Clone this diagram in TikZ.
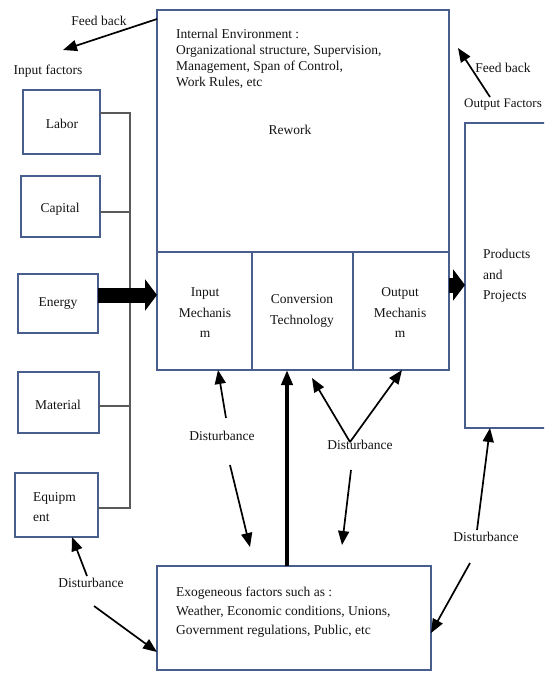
\documentclass[tikz,border=0pt]{standalone}
\usepackage{fontspec}
\setmainfont{Liberation Serif}
\usetikzlibrary{arrows.meta,calc}
\definecolor{bcol}{RGB}{72,94,140}
\definecolor{lcol}{RGB}{90,90,90}
\definecolor{tcol}{RGB}{20,20,20}
\begin{document}
\begin{tikzpicture}[x=1pt,y=-1pt,
  box/.style={draw=bcol,line width=1.9pt,inner sep=0pt,outer sep=0pt},
  lbl/.style={text=tcol,inner sep=0pt,font=\fontsize{13.5}{16}\selectfont},
  lblw/.style={text=tcol,inner sep=0pt,font=\fontsize{13.5}{20.5}\selectfont},
  bus/.style={draw=lcol,line width=1.5pt},
  tarrow/.style={draw=black,line width=1.7pt,-{Triangle[length=14pt,width=11pt]}},
  fatarrow/.style={draw=black,line width=15pt,-{Triangle[length=12pt,width=31pt]}},
  medarrow/.style={draw=black,line width=4pt,-{Triangle[length=15pt,width=11pt]}}]
\clip (0,0) rectangle (544,674);
\fill[white] (0,0) rectangle (544,674);

% main boxes
\node[box,minimum width=292pt,minimum height=242pt] (internal) at (303,131) {};
\node[box,minimum width=95pt,minimum height=118pt] (inmech) at (204.5,311) {};
\node[box,minimum width=101pt,minimum height=118pt] (conv) at (302.5,311) {};
\node[box,minimum width=96pt,minimum height=118pt] (outmech) at (401,311) {};
\node[box,minimum width=87pt,minimum height=305pt] (prod) at (508.5,275.5) {};
\node[box,minimum width=274pt,minimum height=104pt] (exo) at (294,618) {};

% input boxes
\node[box,minimum width=77pt,minimum height=64pt] (labor) at (61.5,122) {};
\node[box,minimum width=79pt,minimum height=61pt] (capital) at (60.5,206.5) {};
\node[box,minimum width=80pt,minimum height=59pt] (energy) at (58,303.5) {};
\node[box,minimum width=81pt,minimum height=61pt] (material) at (58.5,402.5) {};
\node[box,minimum width=83pt,minimum height=64pt] (equip) at (56.5,505) {};

% texts
\node[lbl,anchor=north west,align=left] (inttext) at (176,28.5)
  {Internal Environment :\\Organizational structure, Supervision,\\Management, Span of Control,\\Work Rules, etc};
\node[lbl] (rework) at (290,130) {Rework};
\node[lblw,align=center] (inmtext) at (205,313) {Input\\Mechanis\\m};
\node[lblw,align=center] (convtext) at (302,311) {Conversion\\Technology};
\node[lblw,align=center] (outmtext) at (400,313) {Output\\Mechanis\\m};
\node[lblw,align=left,anchor=west] (prodtext) at (483,276) {Products\\and\\Projects};
\node[lbl,align=left,anchor=north west,font=\fontsize{13.5}{19}\selectfont] (exotext) at (176,586.5)
  {Exogeneous factors such as :\\Weather, Economic conditions, Unions,\\Government regulations, Public, etc};
\node[lbl] (labortext) at (62,124) {Labor};
\node[lbl] (captext) at (60,209) {Capital};
\node[lbl] (energytext) at (58,304) {Energy};
\node[lbl] (mattext) at (58,405) {Material};
\node[lblw,align=left,anchor=west,font=\fontsize{13.5}{20}\selectfont] (equiptext) at (33,507) {Equipm\\ent};

\node[lbl] (fbl) at (99,21) {Feed back};
\node[lbl] (inf) at (48,71) {Input factors};
\node[lbl] (fbr) at (503,68) {Feed back};
\node[lbl,anchor=west,font=\fontsize{13}{16}\selectfont] (outf) at (464,105) {Output Factors};

\node[lbl] (dist1) at (222,436) {Disturbance};
\node[lbl] (dist2) at (360,445) {Disturbance};
\node[lbl] (dist3) at (486,537) {Disturbance};
\node[lbl] (dist4) at (91,583) {Disturbance};

% bus connectors
\coordinate (bustop) at (130,113);
\coordinate (busbot) at (130,508);
\draw[bus] ($(labor.east)+(0,-9)$) -- (bustop) -- (busbot) -- ($(equip.east)+(0,3)$);
\draw[bus] ($(capital.east)+(0,5.5)$) coordinate (c1) -- (c1 -| bustop);
\draw[bus] ($(material.east)+(0,3.5)$) coordinate (m1) -- (m1 -| bustop);

% thick arrows
\draw[fatarrow] ($(energy.east)+(0,-8.5)$) -- ($(inmech.west)+(0,-16)$);
\draw[fatarrow] ($(outmech.east)+(0,-26)$) -- ($(prod.west)+(0,9.5)$);
\draw[medarrow] ($(exo.north)+(-7,0)$) -- ($(conv.south)+(-15.5,0)$);

% feed back
\coordinate (fbLend) at (63,50);
\draw[tarrow] ($(internal.north west)+(0,9)$) -- (fbLend);
\coordinate (fbRs) at (490,97);
\coordinate (fbRe) at (458,48);
\draw[tarrow] (fbRs) -- (fbRe);

% disturbances
\coordinate (d1up) at (226,418);
\coordinate (d1dn) at (230,465);
\coordinate (d1dnend) at (250,547);
\draw[tarrow] (d1up) -- ($(inmech.south)+(13.5,0)$);
\draw[tarrow] (d1dn) -- (d1dnend);

\coordinate (vtx) at (350,442);
\coordinate (convtip) at (312,378);
\coordinate (d2dn) at (351,470);
\coordinate (d2dnend) at (342,545);
\draw[tarrow] (vtx) -- (convtip);
\draw[tarrow] (vtx) -- ($(outmech.south)+(1,0)$);
\draw[tarrow] (d2dn) -- (d2dnend);

\coordinate (d3up) at (477,530);
\coordinate (d3dn) at (470,563);
\draw[tarrow] (d3up) -- ($(prod.south)+(-18.5,0)$);
\draw[tarrow] (d3dn) -- ($(exo.east)+(0,15)$);

\coordinate (d4up) at (87,576);
\coordinate (d4dn) at (94,606);
\draw[tarrow] (d4up) -- ($(equip.south)+(15.5,0)$);
\draw[tarrow] (d4dn) -- ($(exo.west)+(0,34)$);
\end{tikzpicture}
\end{document}
